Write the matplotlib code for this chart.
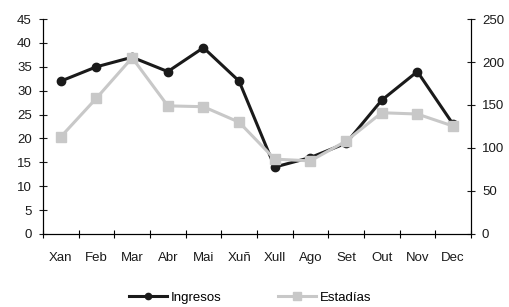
import matplotlib.pyplot as plt

plt.rcParams['font.family'] = ['Liberation Sans', 'DejaVu Sans']

months = ['Xan', 'Feb', 'Mar', 'Abr', 'Mai', 'Xuñ', 'Xull', 'Ago', 'Set', 'Out', 'Nov', 'Dec']
ingresos = [32, 35, 37, 34, 39, 32, 14, 16, 19, 28, 34, 23]
estadias = [113, 158, 205, 149, 148, 130, 87, 85, 108, 141, 139.5, 125.5]
left_ticks = list(range(0, 50, 5))
right_ticks = list(range(0, 300, 50))

fig = plt.figure(figsize=(5.09, 3.07), dpi=100)
ax = fig.add_axes([0.0845, 0.238, 0.8405, 0.7])
ax2 = ax.twinx()

x = list(range(len(months)))
l1, = ax.plot(x, ingresos, color='#1a1a1a', lw=2.2, marker='o', ms=6, label='Ingresos')
l2, = ax2.plot(x, estadias, color='#c8c8c8', lw=2.2, marker='s', ms=7, label='Estadías')

ax.set_xlim(-0.5, 11.5)
ax.set_ylim(0, 45)
ax2.set_ylim(0, 250)
ax.set_yticks(left_ticks)
ax2.set_yticks(right_ticks)

ax.set_xticks(x)
ax.set_xticklabels(months)
ax.set_xticks([i - 0.5 for i in range(13)], minor=True)
ax.tick_params(axis='x', which='major', length=0, pad=13)
ax.tick_params(axis='x', which='minor', direction='inout', length=6, width=0.8)
ax.tick_params(axis='y', direction='inout', length=6, width=0.8, pad=5)
ax2.tick_params(axis='y', direction='inout', length=6, width=0.8, pad=5)

for a in (ax, ax2):
    a.spines['top'].set_visible(False)
    for s in a.spines.values():
        s.set_linewidth(0.8)
    a.tick_params(labelsize=9.5, colors='#1a1a1a')

leg = fig.legend([l1, l2], ['Ingresos', 'Estadías'], loc='center', bbox_to_anchor=(0.491, 0.03),
                 ncol=2, frameon=False, fontsize=9.5, handlelength=2.9, columnspacing=4.3,
                 markerscale=0.75, handletextpad=0.25, borderpad=0.1)
for h in leg.legend_handles:
    h.set_linewidth(2.2)

fig.savefig('out.png', dpi=100)
